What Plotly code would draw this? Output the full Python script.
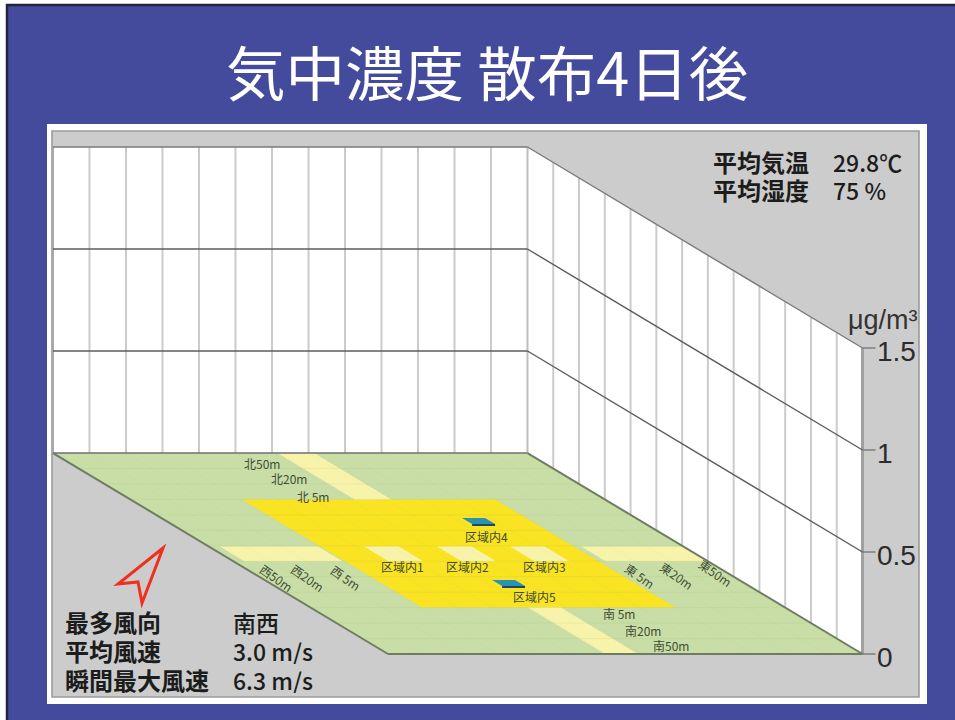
import plotly.graph_objects as go

# ---- data ----
title_text = "気中濃度 散布4日後"
z_ticks = [0, 0.5, 1, 1.5]
z_tick_labels = ["0", "0.5", "1", "1.5"]
unit_label = "μg/m³"
grid_cells = 13
plate_names = ["区域内4", "区域内5"]
plate_values = [0.01, 0.01]
site_names = ["北50m", "北20m", "北 5m", "西50m", "西20m", "西 5m", "区域内1", "区域内2", "区域内3",
              "区域内4", "区域内5", "東 5m", "東20m", "東50m", "南 5m", "南20m", "南50m"]
weather_left = ["最多風向", "平均風速", "瞬間最大風速"]
weather_left_values = ["南西", "3.0 m/s", "6.3 m/s"]
weather_right = ["平均気温", "平均湿度"]
weather_right_values = ["29.8℃", "75 %"]

# ---- floor plan layout (grid units) ----
site_u = [5.27, 5.28, 5.16, 0.41, 1.32, 2.36, 4.38, 6.14, 8.27, 8.05, 6.63, 10.51, 11.53, 12.66, 8.2, 8.08, 8.12]
site_v = [12.35, 11.32, 10.22, 4.92, 4.98, 4.98, 5.63, 5.63, 5.63, 7.57, 3.69, 5.11, 5.11, 5.24, 2.65, 1.55, 0.52]
site_rot = [0, 0, 0, 35, 35, 35, 0, 0, 0, 0, 0, 35, 35, 35, 0, 0, 0]
yellow_zone = (3.05, 10, 3, 10)
pale_zones = [(6.15, 7.15, 10, 13), (5.95, 6.85, 0, 3), (0.3, 3, 6, 6.95), (10.2, 13, 6, 6.95),
              (4.25, 5.2, 6, 6.95), (6.25, 7.2, 6, 6.95), (8.25, 9.2, 6, 6.95)]
plate_spans = [(8.15, 8.78, 8.28, 8.67), (6.14, 6.77, 4.27, 4.66)]

BLUE, GREY, GREEN, YELLOW, PALE = "#444a9c", "#cccccc", "#c8dea6", "#f9e322", "#f8f3ab"
SANS = "Noto Sans CJK JP"
LABEL = "#3f4c33"


def px(u, v):
    return 388 + 36.5 * u - 25.77 * v


def py(v, z):
    return 654 - 15.46 * v - 204 * z


fig = go.Figure()


def poly(pts, fill, line=None, width=0):
    fig.add_trace(go.Scatter(x=[px(u, v) for u, v, z in pts], y=[py(v, z) for u, v, z in pts],
                             mode="lines", fill="toself", fillcolor=fill,
                             line=dict(color=line or fill, width=width), hoverinfo="skip"))


def seg(a, b, color, width):
    fig.add_trace(go.Scatter(x=[px(a[0], a[1]), px(b[0], b[1])], y=[py(a[1], a[2]), py(b[1], b[2])],
                             mode="lines", line=dict(color=color, width=width), hoverinfo="skip"))


def zone(span, fill):
    u0, u1, v0, v1 = span
    poly([(u0, v0, 0), (u1, v0, 0), (u1, v1, 0), (u0, v1, 0), (u0, v0, 0)], fill)


N = grid_cells
top = z_ticks[-1]

# walls
poly([(0, N, 0), (N, N, 0), (N, N, top), (0, N, top), (0, N, 0)], "#ffffff")
poly([(N, N, 0), (N, 0, 0), (N, 0, top), (N, N, top), (N, N, 0)], "#ffffff")
for i in range(1, N):
    seg((i, N, 0), (i, N, top), "#cbcbcb", 2)
    seg((N, i, 0), (N, i, top), "#cbcbcb", 2)
seg((0, N, 0), (0, N, top), "#a8a8a8", 2)
seg((N, N, 0), (N, N, top), "#bdbdbd", 2)
seg((N, 0, 0), (N, 0, top), "#a0a0a0", 3)
for z in z_ticks[1:]:
    c = "#7a7a7a" if z == top else "#5c5c5c"
    seg((0, N, z), (N, N, z), c, 1.4)
    seg((N, N, z), (N, 0, z), c, 1.4)

# floor
poly([(0, 0, 0), (N, 0, 0), (N, N, 0), (0, N, 0), (0, 0, 0)], GREEN)
zone(yellow_zone, YELLOW)
for p in pale_zones:
    zone(p, PALE)
for i in range(1, N):
    seg((0, i, 0), (N, i, 0), "rgba(150,170,90,0.12)", 1)
    seg((i, 0, 0), (i, N, 0), "rgba(150,170,90,0.05)", 1)
seg((0, N, 0), (N, N, 0), "#6f6f6f", 1.4)
seg((0, N, 0), (0, 0, 0), "#6e7d62", 2)
seg((0, 0, 0), (N, 0, 0), "#6e7d62", 2)
seg((N, 0, 0), (N, N, 0), "#6e7d62", 2)

# plates
for (u0, u1, v0, v1), val in zip(plate_spans, plate_values):
    poly([(u0, v0, 0), (u1, v0, 0), (u1, v0, val), (u0, v0, val), (u0, v0, 0)], "#22485e")
    poly([(u0, v0, val), (u1, v0, val), (u1, v1, val), (u0, v1, val), (u0, v0, val)], "#2a93b2")

# z ticks
for z in z_ticks:
    x0 = px(N, 0)
    fig.add_trace(go.Scatter(x=[x0, x0 + 13], y=[py(0, z), py(0, z)], mode="lines",
                             line=dict(color="#777777", width=1.4), hoverinfo="skip"))


def label(x, y, text, size, color="#222222", family=SANS, weight=400, anchor="left", rot=0, height=None):
    fig.add_annotation(x=x, y=y, text=text, showarrow=False, xanchor=anchor, yanchor="middle",
                       textangle=rot, font=dict(family=family, size=size, color=color, weight=weight),
                       borderpad=0, borderwidth=0, height=height)


for z, t in zip(z_ticks, z_tick_labels):
    label(px(N, 0) + 14, py(0, z) + 3, t, 28, "#2b2b2b", "Liberation Sans")
label(px(N, 0) - 15, 320, unit_label, 27, "#333333", "Liberation Sans")

for name, u, v, r in zip(site_names, site_u, site_v, site_rot):
    label(px(u, v), py(v, 0), name, 12, LABEL, anchor="center", rot=r)

for name, val, y in zip(weather_left, weather_left_values, [621.5, 650.5, 679.5]):
    label(65, y, name, 24, "#1c1c1c", weight=700, height=27)
    label(233, y, val, 23, "#1c1c1c", SANS, 500, height=27)
for name, val, y in zip(weather_right, weather_right_values, [161, 189]):
    label(713, y, name, 24, "#1c1c1c", weight=700, height=27)
    label(833, y, val, 23, "#1c1c1c", SANS, 500, height=27)

label(487, 70, title_text, 59.5, "#ffffff", anchor="center")

# slide backdrop and wind arrow
shapes = [
    dict(type="rect", x0=7, y0=5, x1=960, y1=725, fillcolor=BLUE, line=dict(color="#24243c", width=2.5), layer="below"),
    dict(type="rect", x0=47, y0=124, x1=927, y1=704, fillcolor="#ffffff", line=dict(width=0), layer="below"),
    dict(type="rect", x0=52, y0=131, x1=919, y1=697, fillcolor=GREY, line=dict(color="#9a9a9a", width=1.6), layer="below"),
    dict(type="path", path="M163,548 L118,584 L138,582 L142,603 Z", line=dict(color="#f0301f", width=3),
         fillcolor="rgba(0,0,0,0)", layer="above"),
]

fig.update_layout(
    width=955, height=720, margin=dict(l=0, r=0, t=0, b=0), showlegend=False,
    paper_bgcolor="#ffffff", plot_bgcolor="#ffffff", shapes=shapes,
    xaxis=dict(range=[0, 955], visible=False, fixedrange=True),
    yaxis=dict(range=[720, 0], visible=False, fixedrange=True),
)
fig.write_html("out.html", config=dict(displayModeBar=False),
               post_script="document.body.style.margin='0';document.body.style.overflow='hidden';")
